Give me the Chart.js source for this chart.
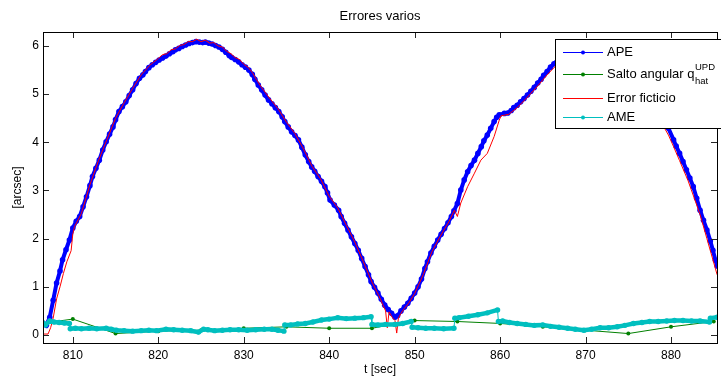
<!DOCTYPE html>
<html>
<head>
<meta charset="utf-8">
<script src="https://cdn.jsdelivr.net/npm/chart.js@4/dist/chart.umd.min.js"></script>
<style>
  html, body { margin: 0; padding: 0; background: #fff; }
  canvas { display: block; }
</style>
</head>
<body>
<canvas id="chart" width="721" height="379"></canvas>
<script>
// Axis ticks
const xTicks = [810, 820, 830, 840, 850, 860, 870, 880];
const yTicks = [0, 1, 2, 3, 4, 5, 6];

// APE
const apeT = [806.5, 806.9, 807.3, 807.7, 808.1, 808.5, 808.8, 809.2, 809.6, 810.0, 810.4, 810.8, 811.2, 811.6, 812.0, 812.3, 812.7, 813.1, 813.5, 813.9,
  814.3, 814.7, 815.0, 815.4, 815.8, 816.2, 816.6, 817.0, 817.4, 817.8, 818.2, 818.5, 818.9, 819.3, 819.7, 820.1, 820.5, 820.9, 821.3, 821.7,
  822.0, 822.4, 822.8, 823.2, 823.6, 824.0, 824.4, 824.8, 825.2, 825.5, 825.9, 826.3, 826.7, 827.1, 827.5, 827.9, 828.3, 828.6, 829.0, 829.4,
  829.8, 830.2, 830.6, 831.0, 831.3, 831.7, 832.1, 832.5, 832.9, 833.3, 833.7, 834.1, 834.5, 834.8, 835.2, 835.6, 836.0, 836.4, 836.8, 837.2,
  837.6, 837.95, 838.3, 838.7, 839.1, 839.5, 839.8, 840.1, 840.6, 841.1, 841.4, 841.8, 842.2, 842.6, 843.0, 843.4, 843.8, 844.2, 844.6, 844.9,
  845.3, 845.7, 846.1, 846.5, 846.9, 847.3, 847.7, 848.0, 848.4, 848.8, 849.2, 849.6, 850.0, 850.4, 850.8, 851.2, 851.5, 851.9, 852.3, 852.7,
  853.1, 853.5, 853.9, 854.3, 854.6, 855.0, 855.4, 855.8, 856.2, 856.6, 857.0, 857.4, 857.8, 858.1, 858.5, 858.9, 859.3, 859.6, 859.9, 860.5,
  860.9, 861.3, 861.6, 862.0, 862.4, 862.8, 863.2, 863.6, 864.0, 864.4, 864.8, 865.1, 865.5, 865.9, 866.3, 867.0, 868.0, 869.0, 870.0, 871.0,
  872.0, 873.0, 874.0, 875.0, 876.0, 877.0, 878.0, 879.0, 879.7, 880.3, 880.6, 881.0, 881.4, 881.8, 882.2, 882.6, 883.0, 883.4, 883.8, 884.2,
  884.6, 884.9, 885.2, 885.4];
const apeV = [0.25, 0.20, 0.37, 0.72, 1.08, 1.33, 1.56, 1.77, 1.97, 2.22, 2.36, 2.46, 2.66, 2.87, 3.10, 3.29, 3.46, 3.63, 3.84, 4.01,
  4.17, 4.32, 4.47, 4.64, 4.74, 4.84, 4.97, 5.09, 5.22, 5.33, 5.40, 5.47, 5.55, 5.61, 5.66, 5.71, 5.75, 5.79, 5.84, 5.88,
  5.92, 5.95, 5.99, 6.02, 6.05, 6.07, 6.09, 6.08, 6.07, 6.08, 6.06, 6.04, 6.01, 5.98, 5.93, 5.87, 5.80, 5.76, 5.72, 5.67,
  5.61, 5.56, 5.50, 5.41, 5.31, 5.19, 5.09, 4.98, 4.88, 4.80, 4.72, 4.64, 4.53, 4.43, 4.32, 4.22, 4.14, 4.05, 3.90, 3.74,
  3.60, 3.49, 3.40, 3.29, 3.19, 3.08, 2.95, 2.80, 2.70, 2.59, 2.46, 2.32, 2.18, 2.04, 1.90, 1.76, 1.59, 1.42, 1.25, 1.11,
  0.99, 0.87, 0.74, 0.62, 0.53, 0.45, 0.37, 0.40, 0.50, 0.58, 0.66, 0.76, 0.87, 1.00, 1.16, 1.38, 1.52, 1.70, 1.84, 1.97,
  2.09, 2.21, 2.33, 2.46, 2.58, 2.73, 3.01, 3.22, 3.39, 3.52, 3.63, 3.77, 3.91, 4.03, 4.15, 4.29, 4.43, 4.52, 4.57, 4.60,
  4.61, 4.66, 4.72, 4.77, 4.84, 4.91, 4.98, 5.06, 5.14, 5.23, 5.31, 5.39, 5.47, 5.56, 5.63, 5.75, 5.88, 5.95, 5.98, 5.96,
  5.90, 5.80, 5.65, 5.47, 5.26, 5.03, 4.80, 4.52, 4.29, 4.05, 3.92, 3.77, 3.60, 3.43, 3.26, 3.08, 2.84, 2.59, 2.38, 2.18,
  1.95, 1.76, 1.55, 1.43];

// Salto angular q_hat^UPD
const saltoT = [805, 810, 815, 820, 825, 830, 835, 840, 845, 850, 855, 860, 865, 870, 875, 880, 885];
const saltoV = [0.21, 0.33, 0.03, 0.08, 0.10, 0.14, 0.17, 0.14, 0.14, 0.30, 0.28, 0.24, 0.17, 0.10, 0.03, 0.17, 0.28];

// Error ficticio
const errorT = [806.5, 807.1, 807.4, 807.7, 808.1, 808.5, 808.9, 809.3, 809.8, 810.0, 810.2, 811.0, 812.0, 813.0, 814.0, 815.0, 816.0, 817.0, 818.0, 819.0,
  820.0, 820.5, 821.0, 821.5, 822.0, 822.5, 823.0, 823.5, 824.0, 824.5, 825.0, 825.5, 826.0, 826.5, 827.0, 827.5, 828.0, 828.5, 829.0, 829.5,
  830.0, 830.5, 831.0, 831.5, 832.0, 832.5, 833.0, 834.0, 835.0, 836.0, 837.0, 838.0, 839.0, 840.0, 841.0, 842.0, 843.0, 844.0, 845.0, 845.8,
  846.3, 846.6, 846.8, 847.0, 847.4, 847.7, 847.9, 848.1, 848.4, 848.8, 849.3, 850.0, 851.0, 852.0, 853.0, 854.0, 854.65, 855.0, 855.4, 856.2,
  857.0, 857.75, 858.5, 859.3, 859.9, 860.1, 861.0, 862.0, 863.0, 864.4, 865.5, 866.3, 868.0, 870.0, 872.0, 874.0, 876.0, 878.0, 879.7, 880.3,
  881.0, 882.0, 883.4, 884.2, 885.4];
const errorV = [0.02, 0.02, 0.15, 0.35, 0.75, 1.00, 1.28, 1.52, 1.75, 2.10, 2.25, 2.52, 3.12, 3.62, 4.06, 4.50, 4.82, 5.12, 5.40, 5.60,
  5.74, 5.82, 5.84, 5.92, 5.94, 6.01, 6.03, 6.09, 6.09, 6.14, 6.09, 6.12, 6.06, 6.07, 6.00, 5.98, 5.89, 5.84, 5.76, 5.72,
  5.62, 5.56, 5.45, 5.30, 5.16, 5.04, 4.92, 4.70, 4.42, 4.18, 3.86, 3.50, 3.24, 2.88, 2.64, 2.28, 1.93, 1.52, 1.10, 0.82,
  0.62, 0.50, 0.15, 0.48, 0.36, 0.30, 0.04, 0.35, 0.45, 0.55, 0.66, 0.86, 1.25, 1.72, 2.05, 2.35, 2.59, 2.46, 2.74, 3.08,
  3.36, 3.63, 3.77, 4.12, 4.46, 4.55, 4.58, 4.72, 4.90, 5.17, 5.40, 5.55, 5.82, 5.94, 5.84, 5.58, 5.18, 4.68, 4.15, 3.91,
  3.62, 3.20, 2.50, 2.00, 1.25];

// AME
const ameT = [806.5, 806.8, 807.3, 807.8, 808.4, 809.0, 809.6, 809.7, 810.3, 811.0, 811.9, 812.8, 813.9, 814.5, 815.1, 816.0, 817.0, 818.0, 818.9, 819.8,
  820.9, 821.8, 822.8, 823.8, 824.7, 825.3, 825.8, 826.6, 827.5, 828.4, 829.4, 830.4, 831.4, 832.4, 833.3, 834.0, 834.7, 834.8, 835.5, 836.3,
  837.2, 838.1, 839.1, 840.0, 841.0, 842.0, 843.0, 844.0, 844.9, 845.0, 845.7, 846.6, 847.7, 848.6, 849.6, 849.7, 850.4, 851.3, 852.3, 853.4,
  854.6, 854.7, 855.2, 856.3, 857.4, 858.5, 859.7, 859.8, 860.3, 861.1, 862.0, 863.0, 864.0, 865.0, 865.9, 866.9, 867.9, 868.8, 869.8, 870.7,
  871.7, 872.7, 873.7, 874.6, 875.6, 876.6, 877.5, 878.5, 879.5, 880.4, 881.4, 882.4, 883.4, 884.5, 884.6, 885.4];
const ameV = [0.25, 0.21, 0.29, 0.27, 0.26, 0.25, 0.24, 0.13, 0.14, 0.13, 0.14, 0.13, 0.14, 0.12, 0.10, 0.09, 0.08, 0.09, 0.10, 0.09,
  0.12, 0.11, 0.10, 0.09, 0.06, 0.12, 0.11, 0.09, 0.10, 0.11, 0.11, 0.10, 0.11, 0.12, 0.12, 0.10, 0.08, 0.21, 0.21, 0.23,
  0.24, 0.27, 0.31, 0.33, 0.36, 0.34, 0.35, 0.36, 0.38, 0.22, 0.21, 0.22, 0.22, 0.24, 0.28, 0.16, 0.15, 0.14, 0.14, 0.13,
  0.14, 0.35, 0.36, 0.39, 0.42, 0.46, 0.52, 0.28, 0.29, 0.26, 0.24, 0.22, 0.20, 0.21, 0.18, 0.16, 0.14, 0.12, 0.10, 0.12,
  0.15, 0.15, 0.17, 0.20, 0.24, 0.26, 0.28, 0.28, 0.29, 0.30, 0.30, 0.29, 0.29, 0.27, 0.35, 0.37];

const seriesNames = ['APE', 'Salto angular q', 'Error ficticio', 'AME'];
const colors = { ape: '#0000ff', salto: '#008000', error: '#ff0000', ame: '#00bfbf' };

const FONT = '"Liberation Sans", Arial, sans-serif';
const pairs = (t, v) => t.map((x, i) => ({ x, y: v[i] }));

// frame with inward ticks on all sides, plus the boxed legend in the upper right
const frameAndLegend = {
  id: 'frameAndLegend',
  afterDraw(chart) {
    const { ctx, chartArea: a, scales } = chart;
    ctx.save();
    ctx.strokeStyle = '#262626';
    ctx.lineWidth = 1;
    const tl = 6;
    ctx.beginPath();
    xTicks.forEach(v => {
      const px = Math.round(scales.x.getPixelForValue(v)) + 0.5;
      ctx.moveTo(px, a.bottom); ctx.lineTo(px, a.bottom - tl);
      ctx.moveTo(px, a.top); ctx.lineTo(px, a.top + tl);
    });
    yTicks.forEach(v => {
      const py = Math.round(scales.y.getPixelForValue(v)) + 0.5;
      ctx.moveTo(a.left, py); ctx.lineTo(a.left + tl, py);
      ctx.moveTo(a.right, py); ctx.lineTo(a.right - tl, py);
    });
    ctx.stroke();
    ctx.strokeStyle = '#000';
    ctx.strokeRect(Math.round(a.left) + 0.5, Math.round(a.top) + 0.5,
      Math.round(a.right - a.left), Math.round(a.bottom - a.top));

    // legend
    const lx = 555.5, ly = 39.5, lw = 170, lh = 89;
    ctx.fillStyle = '#fff';
    ctx.fillRect(lx, ly, lw, lh);
    ctx.strokeStyle = '#000';
    ctx.strokeRect(lx, ly, lw, lh);
    const entries = [
      { name: seriesNames[0], color: colors.ape, y: 52, marker: true },
      { name: seriesNames[1], color: colors.salto, y: 74, marker: true, scripts: true },
      { name: seriesNames[2], color: colors.error, y: 98, marker: false },
      { name: seriesNames[3], color: colors.ame, y: 117, marker: true }
    ];
    entries.forEach(e => {
      ctx.strokeStyle = e.color;
      ctx.lineWidth = 1;
      ctx.beginPath();
      ctx.moveTo(563, e.y + 0.5); ctx.lineTo(603, e.y + 0.5);
      ctx.stroke();
      if (e.marker) {
        ctx.fillStyle = e.color;
        ctx.beginPath(); ctx.arc(583, e.y + 0.5, 2, 0, Math.PI * 2); ctx.fill();
      }
      ctx.fillStyle = '#000';
      ctx.font = '13px ' + FONT;
      ctx.textBaseline = 'middle';
      ctx.textAlign = 'left';
      ctx.fillText(e.name, 607, e.y);
      if (e.scripts) {
        const w = ctx.measureText(e.name).width;
        ctx.font = '9.5px ' + FONT;
        ctx.fillText('UPD', 607 + w + 0.5, e.y - 7);
        ctx.fillText('hat', 607 + w + 0.5, e.y + 7);
      }
    });
    ctx.restore();
  }
};

new Chart(document.getElementById('chart'), {
  type: 'line',
  data: {
    datasets: [
      {
        label: seriesNames[0], data: pairs(apeT, apeV), order: 4,
        borderColor: colors.ape, backgroundColor: colors.ape, borderWidth: 4,
        pointRadius: 2.8, pointBorderWidth: 0, pointBackgroundColor: colors.ape, tension: 0
      },
      {
        label: seriesNames[1], data: pairs(saltoT, saltoV), order: 3,
        borderColor: colors.salto, backgroundColor: colors.salto, borderWidth: 1,
        pointRadius: 2, pointBorderWidth: 0, pointBackgroundColor: colors.salto, tension: 0
      },
      {
        label: seriesNames[2], data: pairs(errorT, errorV), order: 2,
        borderColor: colors.error, borderWidth: 1, pointRadius: 0, tension: 0
      },
      {
        label: seriesNames[3], data: pairs(ameT, ameV), order: 1,
        borderColor: colors.ame, backgroundColor: colors.ame, borderWidth: 4.5,
        pointRadius: 2.7, pointBorderWidth: 0, pointBackgroundColor: colors.ame, tension: 0,
        segment: { borderWidth: c => (c.p1.parsed.x - c.p0.parsed.x) < 0.2 ? 1 : 4.5 }
      }
    ]
  },
  options: {
    responsive: false,
    animation: false,
    devicePixelRatio: 1,
    events: [],
    layout: { padding: { left: 0, right: 1, top: 0, bottom: 0 } },
    plugins: {
      legend: { display: false },
      tooltip: { enabled: false },
      title: {
        display: true, text: 'Errores varios', fullSize: false,
        color: '#000', font: { family: FONT, size: 13, weight: 'normal' },
        padding: { top: 9, bottom: 7.4 }
      }
    },
    scales: {
      x: {
        type: 'linear', min: 806.51, max: 885.38,
        afterBuildTicks: s => { s.ticks = xTicks.map(v => ({ value: v })); },
        afterFit: s => { s.height = 36; },
        grid: { display: false, drawTicks: false },
        border: { display: false },
        ticks: { color: '#000', padding: 5, font: { family: FONT, size: 12 }, maxRotation: 0, callback: v => String(v) },
        title: { display: true, text: 't [sec]', color: '#000', font: { family: FONT, size: 12 }, padding: { top: 0, bottom: 2 } }
      },
      y: {
        type: 'linear', min: -0.166, max: 6.29,
        afterBuildTicks: s => { s.ticks = yTicks.map(v => ({ value: v })); },
        afterFit: s => { s.width = 43; },
        grid: { display: false, drawTicks: false },
        border: { display: false },
        ticks: { color: '#000', padding: 4, font: { family: FONT, size: 12 }, callback: v => String(v) },
        title: { display: true, text: '[arcsec]', color: '#000', font: { family: FONT, size: 12 }, padding: { top: 10, bottom: 0 } }
      }
    }
  },
  plugins: [frameAndLegend]
});
</script>
</body>
</html>
